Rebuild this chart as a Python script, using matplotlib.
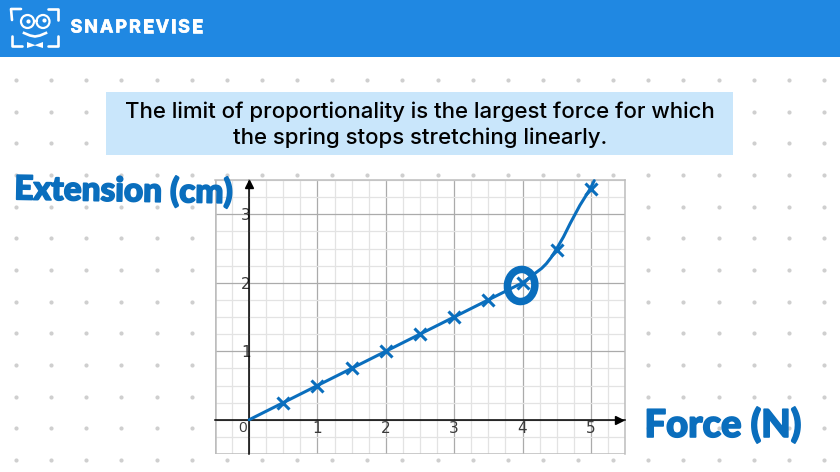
import numpy as np
import matplotlib
matplotlib.use('Agg')
import matplotlib.pyplot as plt
import matplotlib.patheffects as pe
from matplotlib.patches import Rectangle, Ellipse, Circle, Polygon

""" Data """
force = [0.5, 1, 1.5, 2, 2.5, 3, 3.5, 4, 4.5, 5]
extension = [0.25, 0.5, 0.75, 1, 1.25, 1.5, 1.75, 2, 2.48, 3.37]

# points
curve_x = [0, 1, 2, 3, 3.5, 4, 4.1, 4.2, 4.28, 4.35, 4.42, 4.49, 4.6, 4.7, 4.84, 4.99, 5.05]
curve_y = [0, 0.5, 1, 1.5, 1.75, 2, 2.07, 2.15, 2.21, 2.28, 2.37, 2.48, 2.67, 2.87, 3.13, 3.37, 3.49]

x_ticks = [1, 2, 3, 4, 5]
y_ticks = [1, 2, 3]
x_label = 'Force (N)'
y_label = 'Extension (cm)'
title_lines = ['The limit of proportionality is the largest force for which',
               'the spring stops stretching linearly.']
brand = 'SNAPREVISE'

blue_header = '#2088E2'
blue_box = '#C9E6FB'
blue_ink = '#0A6EBD'

fig = plt.figure(figsize=(8.4, 4.72), dpi=100)

""" Page background, in pixels """
bg = fig.add_axes([0, 0, 1, 1])
bg.set_xlim(0, 840)
bg.set_ylim(472, 0)
bg.axis('off')

dot_x, dot_y = np.meshgrid(np.arange(16, 830, 35.13), np.arange(80, 465, 31.65))
bg.scatter(dot_x.ravel(), dot_y.ravel(), s=9, color='#CFCFCF', linewidths=0, zorder=1)

bg.add_patch(Rectangle((0, 0), 840, 57, color=blue_header, lw=0, zorder=2))
bg.add_patch(Rectangle((106, 92), 627, 63, color=blue_box, lw=0, zorder=2))

bg.text(420, 112, title_lines[0], ha='center', va='center', fontsize=16,
        family='Inter', weight='medium', color='black', zorder=3)
bg.text(420, 138, title_lines[1], ha='center', va='center', fontsize=16,
        family='Inter', weight='medium', color='black', zorder=3)

# logo
for xs, ys in [([21, 11, 12], [9, 9, 20]), ([48, 58, 58], [9, 9, 20]),
               ([12, 12, 22], [36, 46, 46]), ([58, 58, 48], [36, 46, 46])]:
    bg.plot(xs, ys, color='white', lw=1.9, zorder=3, solid_capstyle='round')
bg.add_patch(Circle((27.5, 21.5), 6.5, fill=False, ec='white', lw=1.6, zorder=3))
bg.add_patch(Circle((43, 21.5), 6.5, fill=False, ec='white', lw=1.6, zorder=3))
bg.plot([34, 36.5], [21, 21], color='white', lw=1.4, zorder=3)
bg.scatter([28, 44], [21, 20], s=9, color='white', linewidths=0, zorder=3)
bg.plot([24, 30, 35, 40, 46], [33, 35.5, 36.5, 35.5, 33], color='white', lw=1.9, zorder=3)
bg.add_patch(Polygon([[27, 42], [35, 45], [43, 42], [43, 48], [35, 45.5], [27, 48]],
                     color='white', lw=0, zorder=3))

# brand name, letter spaced by hand
renderer = fig.canvas.get_renderer()
pos = 70.5
for letter in brand:
    t = bg.text(pos, 28, letter, ha='left', va='center', fontsize=13,
                family='Inter', weight='bold', color='white', zorder=3,
                path_effects=[pe.withStroke(linewidth=0.5, foreground='white')])
    pos += t.get_window_extent(renderer).width + 1.9

""" Chart """
ax = fig.add_axes([215 / 840, 1 - 454 / 472, 410 / 840, 274 / 472], zorder=2)
ax.set_xlim(-0.5, 5.5)
ax.set_ylim(-0.5, 3.5)
ax.set_facecolor('white')

ax.set_xticks(x_ticks + [0])
ax.set_xticklabels([str(t) for t in x_ticks] + [''])
ax.set_yticks(y_ticks + [0])
ax.set_yticklabels([str(t) for t in y_ticks] + [''])
ax.set_xticks(np.arange(-0.5, 5.6, 0.25), minor=True)
ax.set_yticks(np.arange(-0.5, 3.6, 0.25), minor=True)
ax.grid(which='minor', color='#E3E3E3', lw=0.9, zorder=0)
ax.grid(which='major', color='#ABABAB', lw=0.9, zorder=0.5)
ax.tick_params(which='both', length=0)
ax.tick_params(axis='x', pad=1, labelsize=11, labelcolor='#3A3A3A')
ax.tick_params(axis='y', pad=-1, labelsize=11, labelcolor='#3A3A3A')
for lab in ax.get_xticklabels() + ax.get_yticklabels():
    lab.set_family('Open Sans')
ax.annotate('0', (0, 0), xytext=(-4.5, -6), textcoords='offset points', ha='center', va='center',
            fontsize=11, family='Open Sans', color='#3A3A3A')

ax.spines['left'].set_position(('data', 0))
ax.spines['bottom'].set_position(('data', 0))
ax.spines['left'].set_linewidth(1.1)
ax.spines['bottom'].set_linewidth(1.1)
ax.spines['top'].set_color('#BDBDBD')
ax.spines['right'].set_color('#BDBDBD')
ax.spines['top'].set_linewidth(1.1)
ax.spines['right'].set_linewidth(1.1)
ax.axvline(-0.5, color='#BDBDBD', lw=1.8)
ax.axhline(-0.5, color='#BDBDBD', lw=1.8)
ax.plot(0.985, 0, '>', color='black', ms=6, transform=ax.get_yaxis_transform(), clip_on=False, zorder=4)
ax.plot(0, 0.985, '^', color='black', ms=6, transform=ax.get_xaxis_transform(), clip_on=False, zorder=4)

ax.plot(curve_x, curve_y, color=blue_ink, lw=2.2, zorder=5, clip_on=False,
        solid_capstyle='round', solid_joinstyle='round')
ax.plot(force, extension, 'x', color=blue_ink, ms=8.5, mew=2.2, zorder=5, clip_on=False)
ax.add_patch(Ellipse((3.98, 1.96), 0.4, 0.47, angle=-8, fill=False, ec=blue_ink, lw=5.4, zorder=6))

""" Hand lettered labels, on top of the grid """
top = fig.add_axes([0, 0, 1, 1], zorder=3)
top.set_xlim(0, 840)
top.set_ylim(472, 0)
top.axis('off')

thick = [pe.withStroke(linewidth=1.2, foreground=blue_ink)]
top.text(123.5, 191, y_label, ha='center', va='center', fontsize=24, rotation=-1,
         family='Lato', weight='black', color=blue_ink, path_effects=thick)
top.text(723, 425, x_label, ha='center', va='center', fontsize=27.5,
         family='Lato', weight='black', color=blue_ink, path_effects=thick)

fig.savefig('out.png', dpi=100)
